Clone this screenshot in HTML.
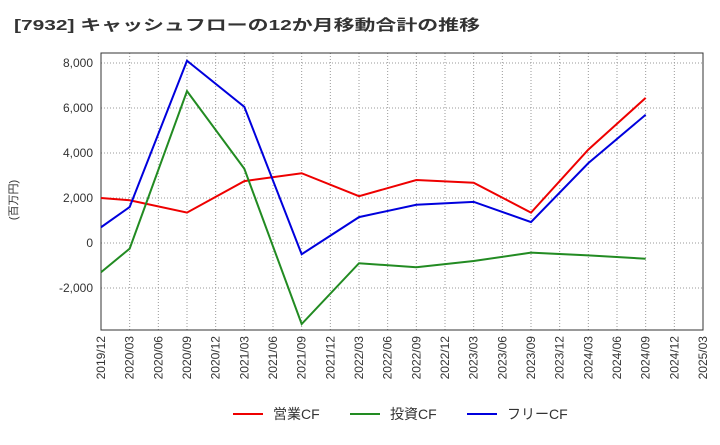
<!DOCTYPE html>
<html><head><meta charset="utf-8"><style>
body{margin:0;background:#fff;font-family:"Liberation Sans","Noto Sans CJK JP",sans-serif;}
svg text{font-family:"Liberation Sans","Noto Sans CJK JP",sans-serif;}
</style></head><body>
<svg id="chart" width="720" height="440">
<text x="14" y="30" font-size="15" font-weight="bold" fill="#333" textLength="466" lengthAdjust="spacingAndGlyphs">[7932]  キャッシュフローの12か月移動合計の推移</text>
<text transform="translate(17,200) rotate(-90)" font-size="11" fill="#333" text-anchor="middle">(百万円)</text>
<g id="grid"></g><g id="axes"></g><g id="series"></g><g id="legend"></g>
</svg>
<script>
const xLabels=["2019/12","2020/03","2020/06","2020/09","2020/12","2021/03","2021/06","2021/09","2021/12","2022/03","2022/06","2022/09","2022/12","2023/03","2023/06","2023/09","2023/12","2024/03","2024/06","2024/09","2024/12","2025/03"];
const yTicks=[-2000,0,2000,4000,6000,8000];
const pointIdx=[0,1,3,5,7,9,11,13,15,17,19];
const opCF=[2000,1900,1350,2750,3100,2080,2800,2680,1350,4150,6450];
const invCF=[-1300,-250,6750,3300,-3600,-900,-1080,-800,-430,-550,-700];
const freeCF=[700,1600,8100,6050,-500,1150,1700,1830,930,3550,5700];
const seriesNames=["営業CF","投資CF","フリーCF"];
const NS="http://www.w3.org/2000/svg";
const L=101,R=703,T=53,B=330;
const x=i=>L+i*(R-L)/(xLabels.length-1);
const y=v=>243-v*45/2000;
function mk(tag,attrs,parent){const e=document.createElementNS(NS,tag);for(const k in attrs)e.setAttribute(k,attrs[k]);parent.appendChild(e);return e;}
const grid=document.getElementById('grid'),axes=document.getElementById('axes'),ser=document.getElementById('series'),leg=document.getElementById('legend');
mk('rect',{x:L,y:T,width:R-L,height:B-T,fill:'none',stroke:'#333','stroke-width':1},axes);
xLabels.forEach((lb,i)=>{
 const g=mk('line',{x1:x(i),x2:x(i),y1:T,y2:B,stroke:'#999','stroke-dasharray':'1,2'},grid);
 
 
 const t=mk('text',{transform:`translate(${x(i)+4},${B+6}) rotate(-90)`,'font-size':12,fill:'#333','text-anchor':'end'},axes);
 t.textContent=lb;
 
 
});
yTicks.forEach(v=>{
 const g=mk('line',{x1:L,x2:R,y1:y(v),y2:y(v),stroke:'#999','stroke-dasharray':'1,2'},grid);
 
 
 const t=mk('text',{x:L-8,y:y(v)+4,'font-size':12,fill:'#333','text-anchor':'end'},axes);
 t.textContent=v.toLocaleString('en-US');
 
 
});
const data=[opCF,invCF,freeCF],colors=['#e00','#228b22','#00d'],names=['operating-cf-line','investing-cf-line','free-cf-line'];
data.forEach((d,s)=>{
 const p=mk('polyline',{points:d.map((v,k)=>x(pointIdx[k])+','+y(v)).join(' '),fill:'none',stroke:colors[s],'stroke-width':2},ser);
 
 
});
const lx=[233,350,467];
seriesNames.forEach((n,s)=>{
 const l=mk('line',{x1:lx[s],x2:lx[s]+30,y1:414,y2:414,stroke:colors[s],'stroke-width':2},leg);
 
 
 const t=mk('text',{x:lx[s]+40,y:419,'font-size':14,fill:'#333'},leg);
 t.textContent=n;
 
 
});
</script>
</body></html>
